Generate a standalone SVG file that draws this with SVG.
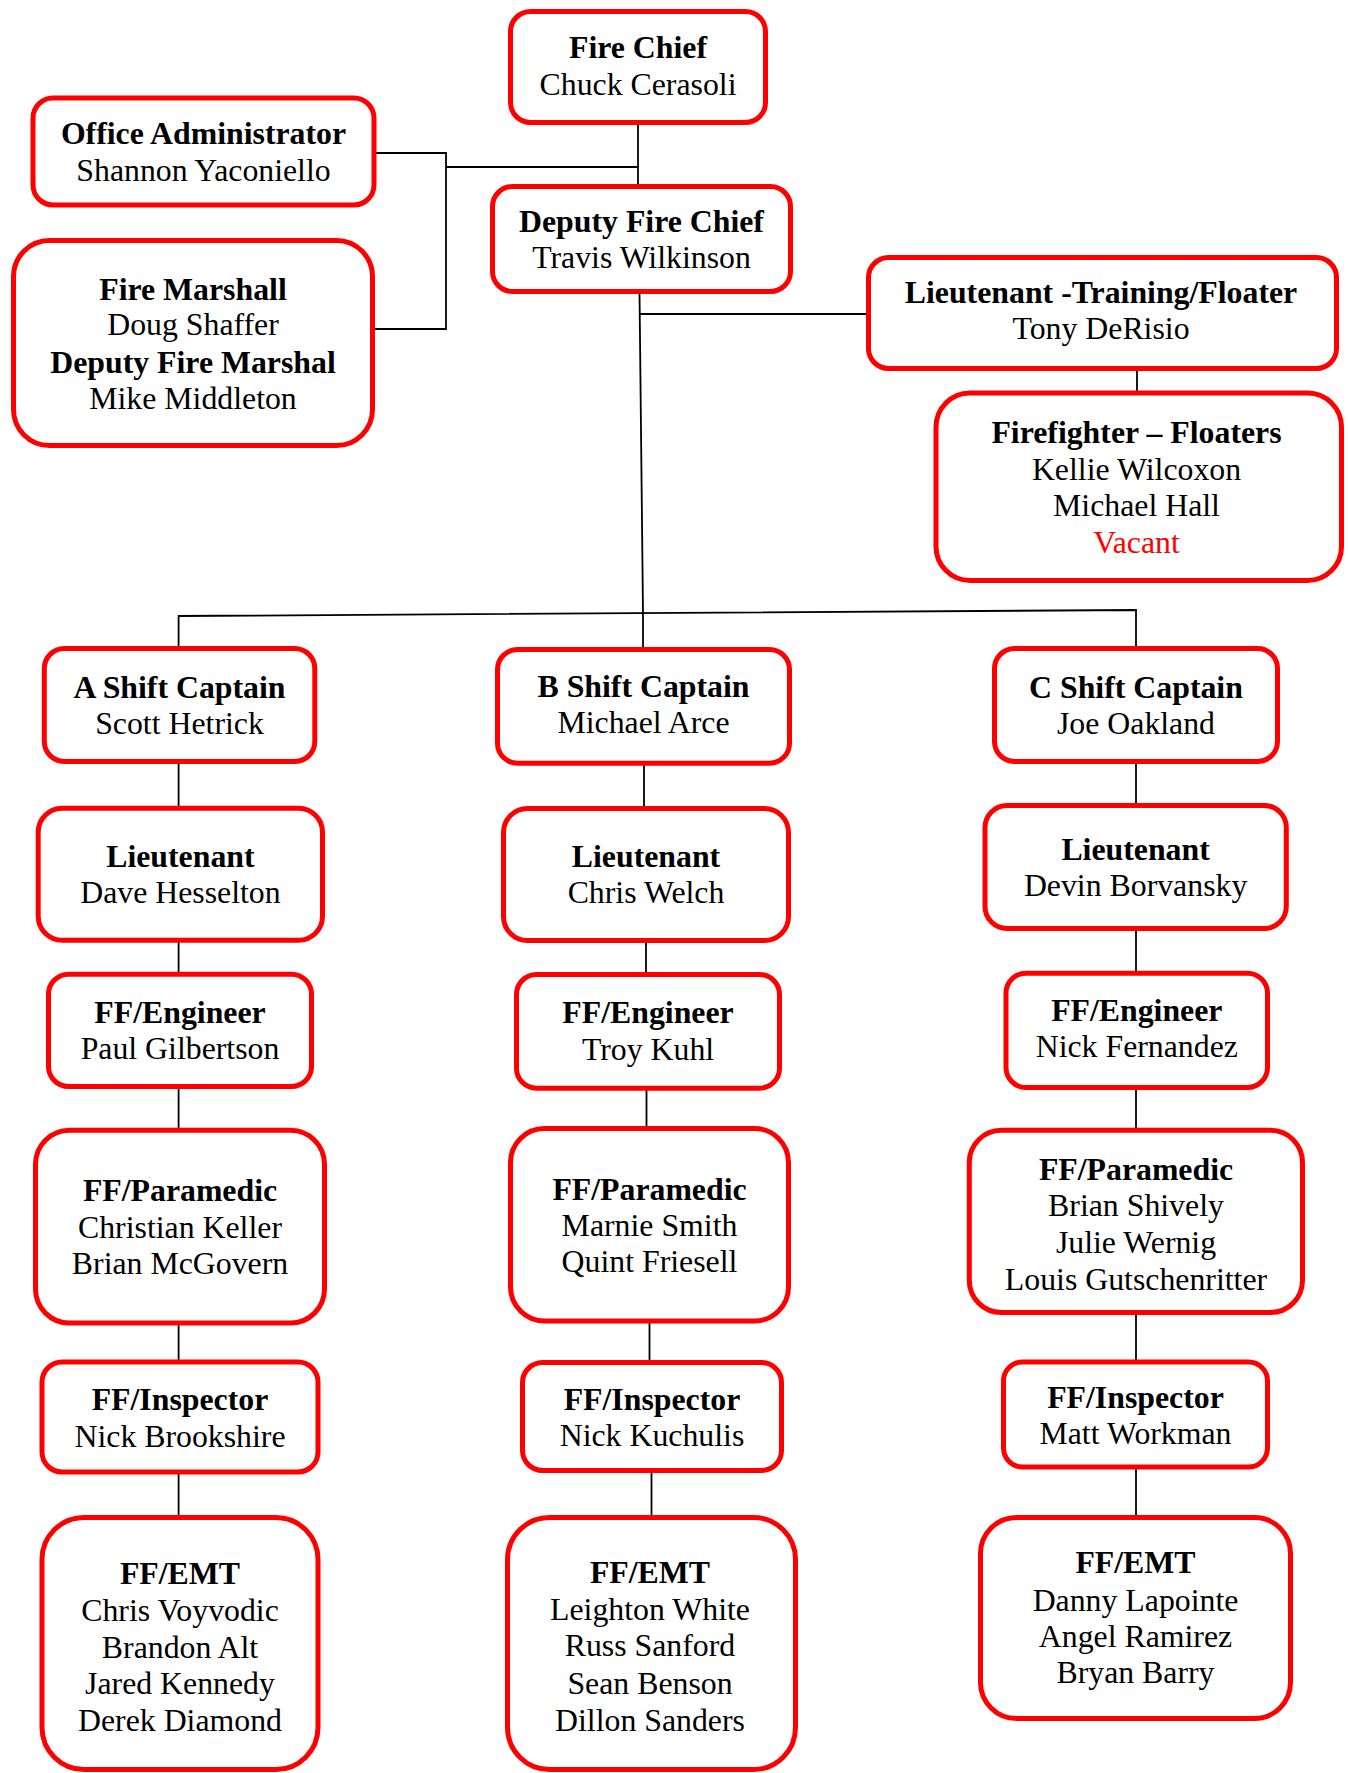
<svg xmlns="http://www.w3.org/2000/svg" width="1348" height="1773" viewBox="0 0 1348 1773">
<style>
.box{fill:#fff;stroke:#ff0000;stroke-width:5}
.ln{fill:none;stroke:#000;stroke-width:1.8}
text{font-family:"Liberation Serif","Times New Roman",serif;font-size:31.8px;fill:#000;text-anchor:middle}
.b{font-weight:bold}
.red{fill:#ff0000}
</style>
<rect width="1348" height="1773" fill="#fff"/>
<g id="connectors">
<line class="ln" x1="638" y1="124" x2="638" y2="186"/>
<line class="ln" x1="446" y1="167" x2="638" y2="167" stroke-width="2.4"/>
<polyline class="ln" points="375,153 446,153 446,329 373,329"/>
<line class="ln" x1="639.5" y1="292" x2="643" y2="613"/>
<line class="ln" x1="640" y1="314" x2="868" y2="314"/>
<line class="ln" x1="1137" y1="370" x2="1137" y2="393"/>
<polyline class="ln" points="178.6,648 178.6,616 1136,610 1136,648"/>
<line class="ln" x1="643" y1="612" x2="643" y2="649"/>
<line class="ln" x1="178.6" y1="762" x2="178.6" y2="808"/>
<line class="ln" x1="178.6" y1="941" x2="178.6" y2="974"/>
<line class="ln" x1="178.6" y1="1087" x2="178.6" y2="1130"/>
<line class="ln" x1="178.6" y1="1323" x2="178.6" y2="1362"/>
<line class="ln" x1="178.6" y1="1472" x2="178.6" y2="1518"/>
<line class="ln" x1="644" y1="764" x2="644" y2="809"/>
<line class="ln" x1="646" y1="941" x2="646" y2="975"/>
<line class="ln" x1="646.5" y1="1088" x2="646.5" y2="1129"/>
<line class="ln" x1="649.5" y1="1321" x2="649.5" y2="1363"/>
<line class="ln" x1="651.5" y1="1471" x2="651.5" y2="1518"/>
<line class="ln" x1="1136" y1="762" x2="1136" y2="806"/>
<line class="ln" x1="1136" y1="929" x2="1136" y2="974"/>
<line class="ln" x1="1136" y1="1088" x2="1136" y2="1131"/>
<line class="ln" x1="1136" y1="1313" x2="1136" y2="1362"/>
<line class="ln" x1="1136" y1="1467" x2="1136" y2="1518"/>
</g>
<g id="fire-chief"><rect class="box" x="510.5" y="11.5" width="255" height="111" rx="20"/><text class="b" x="638" y="58">Fire Chief</text><text x="638" y="95">Chuck Cerasoli</text></g>
<g id="office-admin"><rect class="box" x="33" y="98" width="341" height="107" rx="20"/><text class="b" x="203.5" y="144">Office Administrator</text><text x="203.5" y="180.7">Shannon Yaconiello</text></g>
<g id="fire-marshall"><rect class="box" x="13.5" y="240.5" width="359" height="205" rx="36"/><text class="b" x="193" y="300">Fire Marshall</text><text x="193" y="335">Doug Shaffer</text><text class="b" x="193" y="372.7">Deputy Fire Marshal</text><text x="193" y="409.3">Mike Middleton</text></g>
<g id="deputy-chief"><rect class="box" x="492.5" y="186.5" width="298" height="105" rx="20"/><text class="b" x="641.5" y="231.7">Deputy Fire Chief</text><text x="641.5" y="268.3">Travis Wilkinson</text></g>
<g id="lt-training"><rect class="box" x="868.5" y="257.5" width="468" height="111" rx="20"/><text class="b" x="1101" y="302.7">Lieutenant -Training/Floater</text><text x="1101" y="339.3">Tony DeRisio</text></g>
<g id="ff-floaters"><rect class="box" x="936" y="393" width="405.5" height="187.5" rx="34"/><text class="b" x="1136.5" y="443.3">Firefighter – Floaters</text><text x="1136.5" y="479.5">Kellie Wilcoxon</text><text x="1136.5" y="516">Michael Hall</text><text class="red" x="1136.5" y="552.7">Vacant</text></g>
<g id="a-captain"><rect class="box" x="44.3" y="648.5" width="270.5" height="113" rx="20"/><text class="b" x="179.5" y="698.3">A Shift Captain</text><text x="179.5" y="734.3">Scott Hetrick</text></g>
<g id="b-captain"><rect class="box" x="497.5" y="649.5" width="292" height="113.7" rx="20"/><text class="b" x="643.5" y="696.7">B Shift Captain</text><text x="643.5" y="732.7">Michael Arce</text></g>
<g id="c-captain"><rect class="box" x="994.5" y="648.5" width="283" height="113" rx="20"/><text class="b" x="1136" y="698.3">C Shift Captain</text><text x="1136" y="734.3">Joe Oakland</text></g>
<g id="a-lieutenant"><rect class="box" x="38.2" y="808.2" width="284.3" height="132" rx="24"/><text class="b" x="180.4" y="866.7">Lieutenant</text><text x="180.4" y="903.3">Dave Hesselton</text></g>
<g id="b-lieutenant"><rect class="box" x="503.5" y="808.5" width="285" height="132" rx="24"/><text class="b" x="646" y="866.7">Lieutenant</text><text x="646" y="903.3">Chris Welch</text></g>
<g id="c-lieutenant"><rect class="box" x="985" y="805.5" width="301.3" height="123" rx="22"/><text class="b" x="1135.6" y="860">Lieutenant</text><text x="1135.6" y="896">Devin Borvansky</text></g>
<g id="a-engineer"><rect class="box" x="48.5" y="974.2" width="263" height="112.3" rx="20"/><text class="b" x="180" y="1022.7">FF/Engineer</text><text x="180" y="1059.3">Paul Gilbertson</text></g>
<g id="b-engineer"><rect class="box" x="516.5" y="974.5" width="263" height="113.7" rx="20"/><text class="b" x="648" y="1023.3">FF/Engineer</text><text x="648" y="1060">Troy Kuhl</text></g>
<g id="c-engineer"><rect class="box" x="1006" y="973.2" width="261.5" height="114.3" rx="20"/><text class="b" x="1136.8" y="1020.7">FF/Engineer</text><text x="1136.8" y="1056.7">Nick Fernandez</text></g>
<g id="a-paramedic"><rect class="box" x="35.5" y="1130.3" width="289" height="192.8" rx="34"/><text class="b" x="180" y="1200.9">FF/Paramedic</text><text x="180" y="1237.7">Christian Keller</text><text x="180" y="1274">Brian McGovern</text></g>
<g id="b-paramedic"><rect class="box" x="510.5" y="1128.5" width="278" height="192.5" rx="34"/><text class="b" x="649.5" y="1199.6">FF/Paramedic</text><text x="649.5" y="1236">Marnie Smith</text><text x="649.5" y="1272">Quint Friesell</text></g>
<g id="c-paramedic"><rect class="box" x="969.3" y="1130.3" width="333.2" height="182.2" rx="32"/><text class="b" x="1136" y="1179.8">FF/Paramedic</text><text x="1136" y="1215.7">Brian Shively</text><text x="1136" y="1253">Julie Wernig</text><text x="1136" y="1289.7">Louis Gutschenritter</text></g>
<g id="a-inspector"><rect class="box" x="42" y="1362" width="276" height="110" rx="20"/><text class="b" x="180" y="1410.2">FF/Inspector</text><text x="180" y="1447">Nick Brookshire</text></g>
<g id="b-inspector"><rect class="box" x="522.5" y="1362.5" width="259" height="108" rx="20"/><text class="b" x="652" y="1410.2">FF/Inspector</text><text x="652" y="1446">Nick Kuchulis</text></g>
<g id="c-inspector"><rect class="box" x="1003.5" y="1362" width="264" height="105" rx="19"/><text class="b" x="1135.5" y="1408">FF/Inspector</text><text x="1135.5" y="1444">Matt Workman</text></g>
<g id="a-emt"><rect class="box" x="42" y="1517.5" width="276" height="252" rx="42"/><text class="b" x="180" y="1583.6">FF/EMT</text><text x="180" y="1620.8">Chris Voyvodic</text><text x="180" y="1657.6">Brandon Alt</text><text x="180" y="1693.5">Jared Kennedy</text><text x="180" y="1730.7">Derek Diamond</text></g>
<g id="b-emt"><rect class="box" x="507.5" y="1517.5" width="288" height="252" rx="42"/><text class="b" x="650" y="1582.7">FF/EMT</text><text x="650" y="1619.5">Leighton White</text><text x="650" y="1655.5">Russ Sanford</text><text x="650" y="1693.5">Sean Benson</text><text x="650" y="1730.7">Dillon Sanders</text></g>
<g id="c-emt"><rect class="box" x="980.5" y="1517.5" width="310" height="201" rx="36"/><text class="b" x="1135.5" y="1573">FF/EMT</text><text x="1135.5" y="1611">Danny Lapointe</text><text x="1135.5" y="1647">Angel Ramirez</text><text x="1135.5" y="1683">Bryan Barry</text></g>
</svg>
